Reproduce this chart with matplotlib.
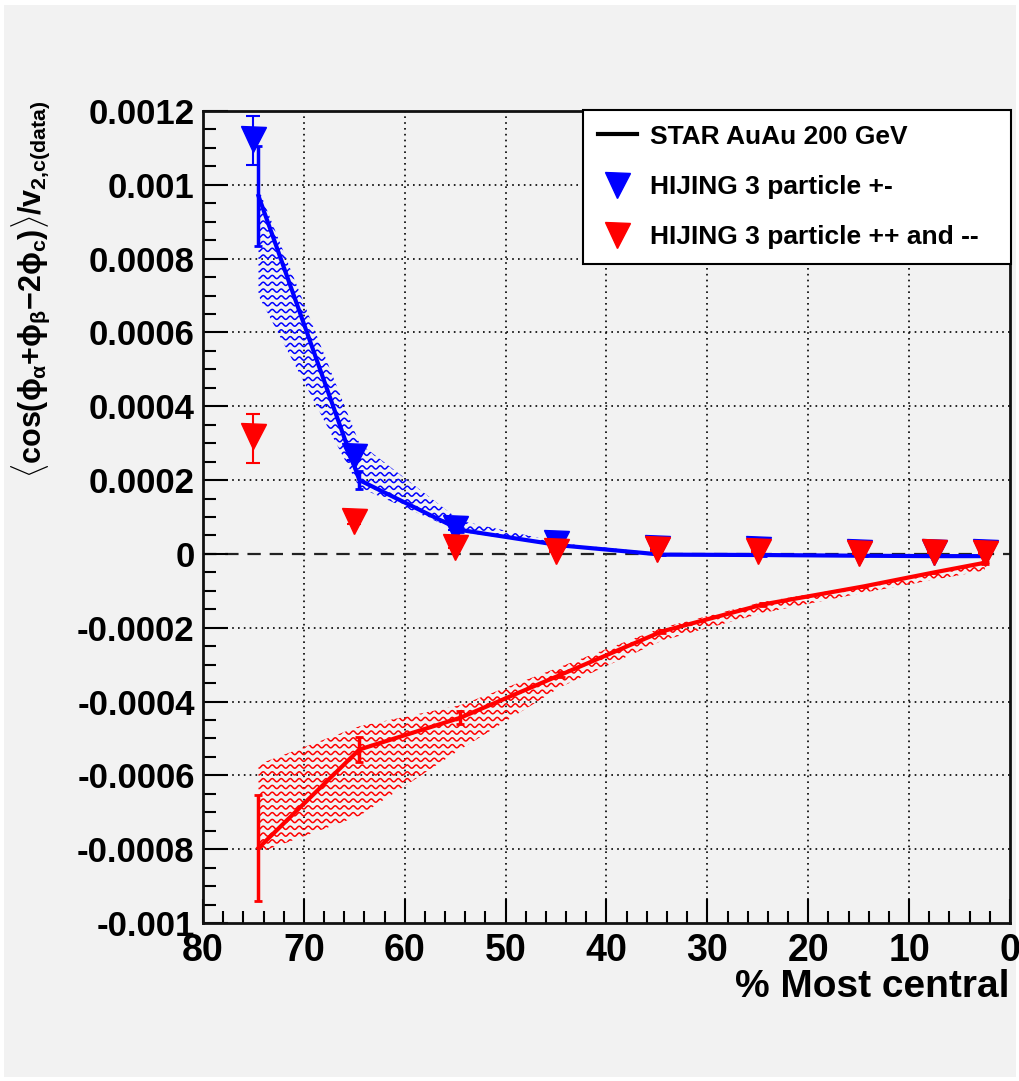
import numpy as np
import matplotlib
matplotlib.use("Agg")
import matplotlib.pyplot as plt
from matplotlib.lines import Line2D
from matplotlib.patches import Rectangle
from matplotlib.collections import LineCollection
from matplotlib.ticker import MultipleLocator, FixedLocator, FixedFormatter

# ---------------- data ----------------
cent_data = [74.5, 64.5, 54.5, 44.5, 34.5, 24.5, 14.5, 7.5, 2.5]
star_pm = [0.00097, 0.000200, 0.000065, 0.000023, -0.000002, -0.000003, -0.000005, -0.000006, -0.000006]
star_pm_err = [0.000135, 0.000025, 0.000006, 0.000003, 0.000002, 0.000002, 0.000002, 0.000002, 0.000002]
star_pm_sys_lo = [0.00070, 0.00018, 0.00006, 0.00002, -0.000004, -0.000005, -0.000006, -0.000007, -0.000007]
star_pm_sys_hi = [0.00099, 0.00030, 0.00009, 0.00003, 0.000001, 0.0, -0.000003, -0.000004, -0.000004]

star_ss = [-0.000797, -0.000530, -0.000444, -0.000327, -0.000210, -0.000137, -0.000088, -0.000050, -0.000024]
star_ss_err = [0.000144, 0.000035, 0.000018, 0.000006, 0.000004, 0.000003, 0.000002, 0.000002, 0.000002]
star_ss_sys_lo = [-0.00081, -0.00071, -0.00053, -0.00036, -0.000235, -0.00016, -0.000105, -0.00007, -0.000045]
star_ss_sys_hi = [-0.00057, -0.000467, -0.00041, -0.000305, -0.0002, -0.00013, -0.000085, -0.00005, -0.000025]

cent_hij = [75, 65, 55, 45, 35, 25, 15, 7.5, 2.5]
hij_pm = [0.001125, 0.000265, 0.000070, 0.000029, 0.000015, 0.000012, 0.000006, 0.000006, 0.000006]
hij_pm_err_lo = [0.000071, 0.00001, 0.000005, 0.000003, 0.000003, 0.000003, 0.000003, 0.000003, 0.000003]
hij_pm_err_hi = [0.000062, 0.00001, 0.000005, 0.000003, 0.000003, 0.000003, 0.000003, 0.000003, 0.000003]
hij_ss = [0.00032, 0.00009, 0.00002, 0.000007, 0.000012, 0.000009, 0.0000035, 0.000006, 0.0000035]
hij_ss_err_lo = [0.000073, 0.00001, 0.000005, 0.000003, 0.000003, 0.000003, 0.000003, 0.000003, 0.000003]
hij_ss_err_hi = [0.000060, 0.00001, 0.000005, 0.000003, 0.000003, 0.000003, 0.000003, 0.000003, 0.000003]

x_ticks = [80, 70, 60, 50, 40, 30, 20, 10, 0]
x_ticklabels = ["80", "70", "60", "50", "40", "30", "20", "10", "0"]
y_ticks = [-0.001, -0.0008, -0.0006, -0.0004, -0.0002, 0, 0.0002, 0.0004, 0.0006, 0.0008, 0.001, 0.0012]
y_ticklabels = ["-0.001", "-0.0008", "-0.0006", "-0.0004", "-0.0002", "0", "0.0002", "0.0004",
                "0.0006", "0.0008", "0.001", "0.0012"]

legend_labels = ["STAR AuAu 200 GeV", "HIJING 3 particle +-", "HIJING 3 particle ++ and --"]

# ---------------- style ----------------
plt.rcParams["mathtext.fontset"] = "custom"
plt.rcParams["mathtext.rm"] = "Liberation Sans:bold"
plt.rcParams["mathtext.it"] = "Liberation Sans:bold"
plt.rcParams["mathtext.bf"] = "Liberation Sans:bold"
plt.rcParams["mathtext.sf"] = "Liberation Sans:bold"
plt.rcParams["font.family"] = ["Liberation Sans", "DejaVu Sans"]

W, H = 1020, 1081
fig = plt.figure(figsize=(W / 100, H / 100), dpi=100, facecolor="white")
fig.patches.append(Rectangle((4 / W, 4 / H), 1 - 8 / W, 1 - 9 / H, transform=fig.transFigure,
                             facecolor="#f2f2f2", edgecolor="none", zorder=-10))

ax = fig.add_axes([203 / W, 1 - 923 / H, 807 / W, 812 / H])
ax.set_facecolor("#f2f2f2")
ax.set_xlim(80, 0)
ax.set_ylim(-0.001, 0.0012)

# grid
for xv in x_ticks[1:-1]:
    ax.axvline(xv, color="black", lw=1.2, ls=(0, (1, 2.5)), zorder=1)
for yv in y_ticks[1:-1]:
    if yv == 0:
        continue
    ax.axhline(yv, color="black", lw=1.2, ls=(0, (1, 2.5)), zorder=1)
ax.axhline(0, color="#222222", lw=1.6, ls=(0, (6, 4)), zorder=1)


def wavy_band(x, lo, hi, color):
    poly = ax.fill_between(x, lo, hi, facecolor="none", edgecolor="none", linewidth=0)
    path = poly.get_paths()[0]
    T = ax.transData
    inv = T.inverted()
    px0, py0 = T.transform((80, -0.001))
    px1, py1 = T.transform((0, 0.0012))
    xs = np.arange(min(px0, px1), max(px0, px1), 0.5)
    segs = []
    for lev in np.arange(min(py0, py1), max(py0, py1), 6.8):
        ys = lev + 1.6 * np.sin(2 * np.pi * xs / 9.0)
        segs.append(inv.transform(np.column_stack([xs, ys])))
    lc = LineCollection(segs, colors=color, linewidths=1.1, zorder=2)
    ax.add_collection(lc)
    lc.set_clip_path(path, T)


wavy_band(cent_data, star_pm_sys_lo, star_pm_sys_hi, "blue")
wavy_band(cent_data, star_ss_sys_lo, star_ss_sys_hi, "red")

# STAR lines
ax.errorbar(cent_data, star_pm, yerr=star_pm_err, color="blue", lw=3, elinewidth=2.5,
            capsize=3, capthick=2, zorder=4)
ax.errorbar(cent_data, star_ss, yerr=star_ss_err, color="red", lw=3, elinewidth=2.5,
            capsize=3, capthick=2, zorder=4)

# HIJING markers
ax.errorbar(cent_hij, hij_pm, yerr=[hij_pm_err_lo, hij_pm_err_hi], fmt="v", color="blue",
            ms=18, elinewidth=1.5, capsize=5, capthick=1.5, zorder=5)
ax.errorbar(cent_hij, hij_ss, yerr=[hij_ss_err_lo, hij_ss_err_hi], fmt="v", color="red",
            ms=18, elinewidth=1.5, capsize=5, capthick=1.5, zorder=6)

# ticks
ax.xaxis.set_major_locator(FixedLocator(x_ticks))
ax.xaxis.set_major_formatter(FixedFormatter(x_ticklabels))
ax.xaxis.set_minor_locator(MultipleLocator(2))
ax.yaxis.set_major_locator(FixedLocator(y_ticks))
ax.yaxis.set_major_formatter(FixedFormatter(y_ticklabels))
ax.yaxis.set_minor_locator(MultipleLocator(0.00005))
ax.tick_params(axis="both", which="both", direction="in", top=False, right=False, color="black")
ax.tick_params(axis="y", which="major", length=18, width=1.5, pad=6)
ax.tick_params(axis="y", which="minor", length=9, width=1.5)
ax.tick_params(axis="x", which="major", length=17, width=1.5, pad=7)
ax.tick_params(axis="x", which="minor", length=9, width=1.5)
for lab in ax.get_yticklabels():
    lab.set_fontsize(25)
    lab.set_fontweight("bold")
for lab in ax.get_xticklabels():
    lab.set_fontsize(27)
    lab.set_fontweight("bold")
for sp in ax.spines.values():
    sp.set_linewidth(2)
    sp.set_color("#111111")

fig.text(31 / W, 1 - 100 / H,
         r"$\langle\cos(\phi_{\alpha}{+}\phi_{\beta}{-}2\phi_{c})\rangle/v_{2{,}c(data)}$",
         rotation=90, ha="center", va="top", fontsize=22, fontweight="bold")
fig.text(1010 / W, 1 - 987 / H, "% Most central", ha="right", va="center", fontsize=28,
         fontweight="bold")

handles = [
    Line2D([], [], color="black", lw=3),
    Line2D([], [], marker="v", color="blue", ls="none", ms=18),
    Line2D([], [], marker="v", color="red", ls="none", ms=18),
]
leg = ax.legend(handles, legend_labels, loc="upper left",
                bbox_to_anchor=(583 / W, 1 - 263 / H, 428 / W, 153 / H), bbox_transform=fig.transFigure,
                mode="expand", borderaxespad=0, frameon=True, fancybox=False, framealpha=1,
                facecolor="white", edgecolor="black", prop={"weight": "bold", "size": 19},
                handlelength=1.5, handletextpad=0.5, labelspacing=1.0, borderpad=0.55)
leg.get_frame().set_linewidth(1.5)
leg.set_zorder(10)

fig.savefig("out.png", dpi=100, facecolor=fig.get_facecolor())
